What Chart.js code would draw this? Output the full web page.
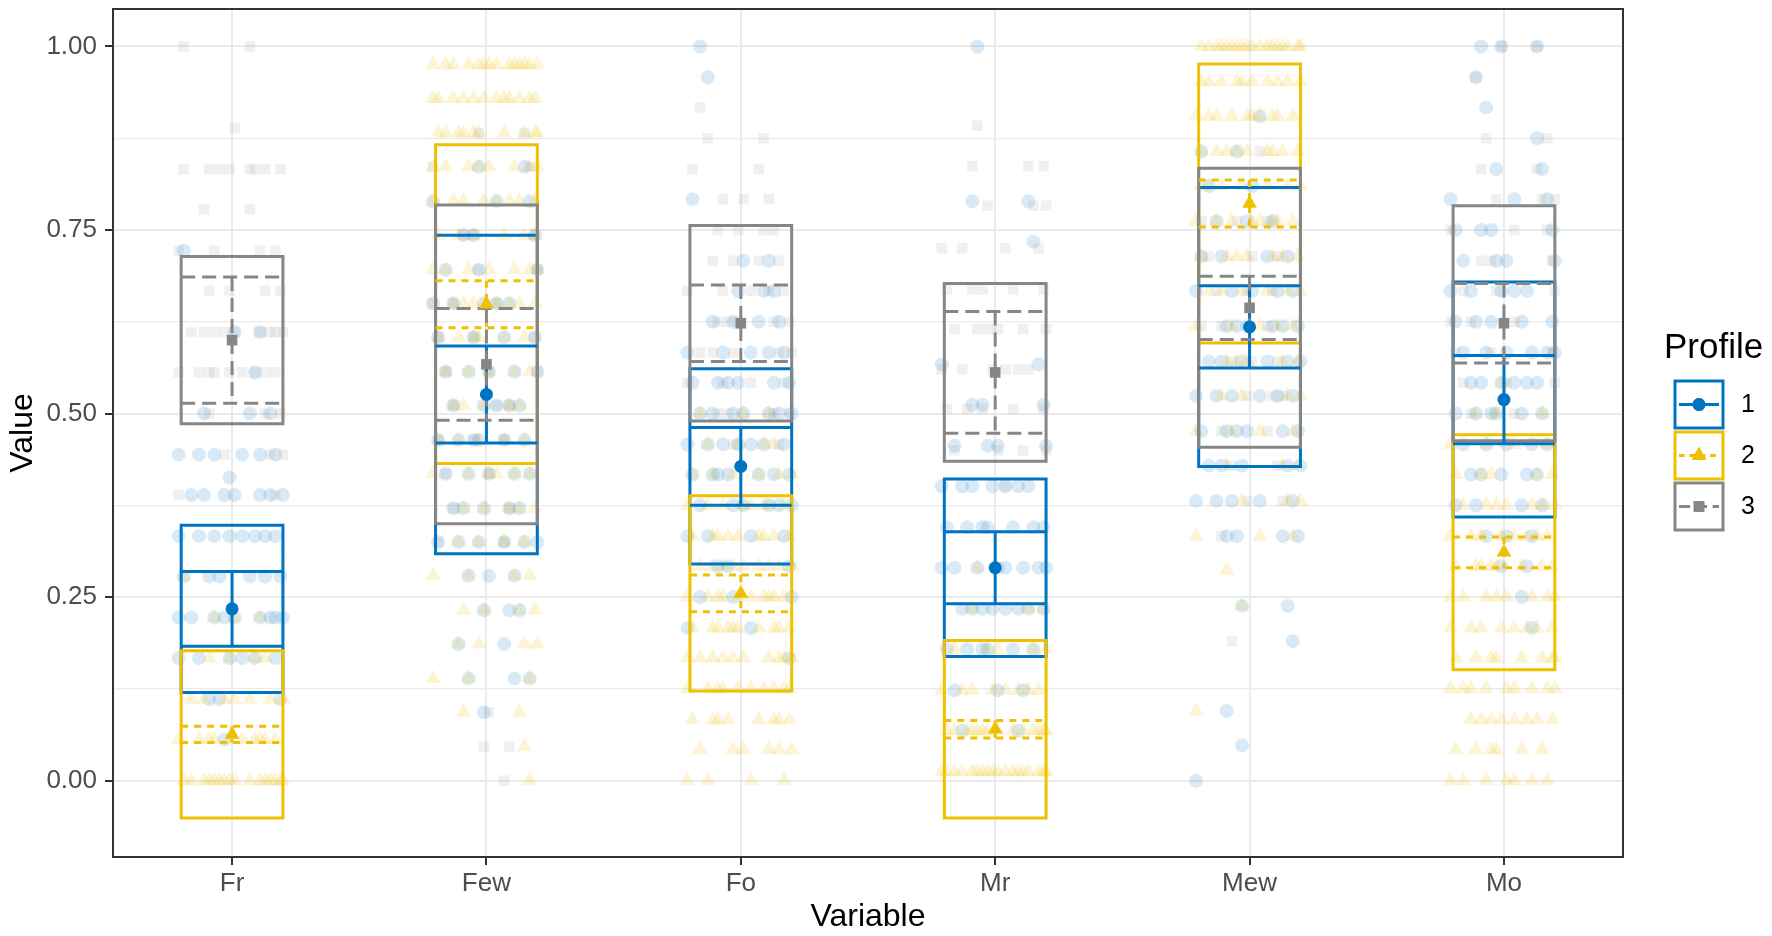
<!DOCTYPE html>
<html>
<head>
<meta charset="utf-8">
<script src="https://cdn.jsdelivr.net/npm/chart.js@4.4.1/dist/chart.umd.min.js"></script>
<style>
  html, body { margin: 0; padding: 0; background: #fff; }
  canvas { display: block; }
</style>
</head>
<body>
<canvas id="chart" width="1772" height="936"></canvas>
<script>
'use strict';

const variables = ['Fr', 'Few', 'Fo', 'Mr', 'Mew', 'Mo'];
const profiles = ['1', '2', '3'];

// means per profile
const mean1 = [0.234, 0.526, 0.428, 0.290, 0.618, 0.519];
const mean2 = [0.063, 0.649, 0.255, 0.070, 0.786, 0.311];
const mean3 = [0.600, 0.567, 0.623, 0.556, 0.644, 0.623];
// half height of the boxes (same for all profiles of a variable)
const boxHalf = [0.114, 0.217, 0.133, 0.121, 0.190, 0.160];
// half height of the error bars
const ci1 = [0.051, 0.066, 0.053, 0.049, 0.056, 0.060];
const ci2 = [0.011, 0.032, 0.025, 0.012, 0.032, 0.021];
const ci3 = [0.086, 0.076, 0.052, 0.083, 0.043, 0.054];

const yTicks = [0, 0.25, 0.5, 0.75, 1];
const yTickLabels = ['0.00', '0.25', '0.50', '0.75', '1.00'];

// raw answers, [value, count] per variable
const obs1 = [
  [[0.722,1],[0.611,2],[0.556,1],[0.5,3],[0.444,6],[0.413,1],[0.389,7],[0.333,8],[0.278,6],[0.222,9],[0.167,6],[0.111,3],[0.056,1]],
  [[0.836,2],[0.789,3],[0.743,3],[0.696,3],[0.65,5],[0.604,4],[0.557,5],[0.511,5],[0.464,6],[0.418,5],[0.371,5],[0.325,6],[0.279,3],[0.232,3],[0.186,2],[0.139,3],[0.093,1]],
  [[1,1],[0.958,1],[0.792,1],[0.708,2],[0.667,3],[0.625,4],[0.583,5],[0.542,6],[0.5,7],[0.458,7],[0.417,7],[0.375,6],[0.333,4],[0.292,3],[0.25,3],[0.208,2],[0.167,1]],
  [[1,1],[0.789,2],[0.734,1],[0.567,2],[0.512,3],[0.456,4],[0.401,7],[0.345,7],[0.29,8],[0.234,8],[0.179,6],[0.123,3],[0.068,2]],
  [[0.905,1],[0.857,2],[0.81,2],[0.762,3],[0.714,4],[0.667,5],[0.619,6],[0.571,6],[0.524,6],[0.476,6],[0.429,5],[0.381,5],[0.333,4],[0.238,2],[0.19,1],[0.095,1],[0.048,1],[0,1]],
  [[1,3],[0.958,1],[0.917,1],[0.875,1],[0.833,2],[0.792,3],[0.75,4],[0.708,4],[0.667,5],[0.625,5],[0.583,6],[0.542,6],[0.5,6],[0.458,5],[0.417,5],[0.375,4],[0.333,3],[0.292,2],[0.25,1],[0.208,1]]
];
const obs2 = [
  [[0.278,1],[0.222,3],[0.167,4],[0.111,7],[0.056,10],[0,16]],
  [[0.975,14],[0.929,12],[0.882,10],[0.836,8],[0.789,8],[0.743,6],[0.696,7],[0.65,8],[0.604,6],[0.557,5],[0.511,5],[0.464,5],[0.418,6],[0.371,5],[0.325,4],[0.279,4],[0.232,4],[0.186,4],[0.139,3],[0.093,2],[0.046,1],[0,1]],
  [[0.5,3],[0.458,4],[0.417,6],[0.375,8],[0.333,9],[0.292,9],[0.25,10],[0.208,10],[0.167,10],[0.125,10],[0.083,8],[0.042,6],[0,4]],
  [[0.29,1],[0.234,3],[0.179,5],[0.123,8],[0.068,14],[0.012,18]],
  [[1,18],[0.952,10],[0.905,10],[0.857,9],[0.81,7],[0.762,8],[0.714,7],[0.667,6],[0.619,5],[0.571,5],[0.524,4],[0.476,4],[0.429,3],[0.381,3],[0.333,3],[0.286,1],[0.238,1],[0.095,1]],
  [[0.542,1],[0.5,3],[0.458,4],[0.417,5],[0.375,7],[0.333,8],[0.292,8],[0.25,8],[0.208,8],[0.167,8],[0.125,9],[0.083,8],[0.042,6],[0,7]]
];
const obs3 = [
  [[1,2],[0.889,1],[0.833,8],[0.778,2],[0.722,4],[0.667,4],[0.611,9],[0.556,9],[0.5,3],[0.444,3],[0.389,2]],
  [[0.882,2],[0.836,2],[0.743,3],[0.696,2],[0.65,3],[0.604,3],[0.557,3],[0.511,3],[0.464,3],[0.418,2],[0.371,2],[0.325,2],[0.093,1],[0.046,2],[0,1]],
  [[0.917,1],[0.875,2],[0.833,2],[0.792,3],[0.75,4],[0.708,4],[0.667,5],[0.625,5],[0.583,5],[0.542,4],[0.5,4],[0.458,2]],
  [[0.892,1],[0.837,3],[0.783,3],[0.725,4],[0.669,5],[0.615,6],[0.56,6],[0.506,5],[0.45,4],[0.401,1]],
  [[0.857,1],[0.762,3],[0.714,3],[0.667,3],[0.619,3],[0.571,3],[0.524,3],[0.476,2],[0.429,2],[0.381,2],[0.333,1],[0.19,1]],
  [[1,2],[0.958,1],[0.875,2],[0.833,2],[0.792,3],[0.75,3],[0.708,3],[0.667,3],[0.625,3],[0.583,3],[0.542,3],[0.5,2]]
];

const colors = ['#0073C2', '#EFC000', '#868686'];
const faded = ['rgba(0,115,194,0.15)', 'rgba(239,192,0,0.17)', 'rgba(134,134,134,0.12)'];
const markers = ['circle', 'triangle', 'rect'];
const markerSize = [6.5, 8.5, 7.5];
const jitterSize = [7, 9, 7.5];
const dashes = [[], [7, 6], [14, 7]];
const halfWidth = 0.2;
const jitterX = [-0.19, 0.07, -0.11, 0.15, -0.03, 0.2, -0.16, 0.01, 0.11, -0.07,
                 0.17, -0.21, 0.04, -0.13, 0.09, -0.01, 0.13, -0.09, 0.19, -0.05];
const font = '"Liberation Sans", Arial, Helvetica, sans-serif';

function boxPath(means) {
  let pts = [];
  means.forEach(function (m, i) {
    let lo = m - boxHalf[i], hi = m + boxHalf[i];
    pts.push({x: i - halfWidth, y: lo}, {x: i + halfWidth, y: lo}, {x: i + halfWidth, y: hi},
             {x: i - halfWidth, y: hi}, {x: i - halfWidth, y: lo}, {x: i, y: null});
  });
  return pts;
}

function errPath(means, ci) {
  let pts = [];
  means.forEach(function (m, i) {
    let lo = m - ci[i], hi = m + ci[i];
    pts.push({x: i - halfWidth, y: hi}, {x: i + halfWidth, y: hi}, {x: i, y: null},
             {x: i, y: hi}, {x: i, y: lo}, {x: i, y: null},
             {x: i - halfWidth, y: lo}, {x: i + halfWidth, y: lo}, {x: i, y: null});
  });
  return pts;
}

function jitterPts(obs) {
  let pts = [];
  obs.forEach(function (list, i) {
    list.forEach(function (row, j) {
      for (let k = 0; k < row[1]; k++) {
        pts.push({x: i + jitterX[(k + j * 7 + i * 3) % jitterX.length], y: row[0]});
      }
    });
  });
  return pts;
}

const means = [mean1, mean2, mean3];
const cis = [ci1, ci2, ci3];
const obs = [obs1, obs2, obs3];
let datasets = [];

profiles.forEach(function (p, k) {
  datasets.push({
    label: 'obs' + p, data: jitterPts(obs[k]), showLine: false,
    pointStyle: markers[k], pointRadius: jitterSize[k], pointBorderWidth: 0,
    pointBackgroundColor: faded[k], order: 40 - k
  });
  datasets.push({
    label: 'box' + p, data: boxPath(means[k]), showLine: true, pointRadius: 0,
    borderColor: colors[k], borderWidth: 3, borderCapStyle: 'square', borderJoinStyle: 'miter',
    spanGaps: false, order: 30 - k
  });
  datasets.push({
    label: 'ci' + p, data: errPath(means[k], cis[k]), showLine: true, pointRadius: 0,
    borderColor: colors[k], borderWidth: 3, borderDash: dashes[k],
    spanGaps: false, order: 20 - k
  });
  datasets.push({
    label: 'mean' + p, data: means[k].map(function (m, i) { return {x: i, y: m}; }),
    showLine: false, pointStyle: markers[k], pointRadius: markerSize[k], pointBorderWidth: 0,
    pointBackgroundColor: colors[k], order: 10 - k
  });
});

function isMajor(v) {
  return yTicks.indexOf(v) >= 0;
}

const panelBorder = {
  id: 'panelBorder',
  afterDatasetsDraw: function (chart) {
    let a = chart.chartArea, ctx = chart.ctx;
    ctx.save();
    ctx.strokeStyle = '#333333';
    ctx.lineWidth = 2;
    ctx.strokeRect(a.left, a.top, a.right - a.left, a.bottom - a.top);
    ctx.restore();
  }
};

// legend drawn by hand: box key with line + marker, like ggplot
const profileLegend = {
  id: 'profileLegend',
  afterDraw: function (chart) {
    let ctx = chart.ctx;
    let x0 = chart.chartArea.right;
    ctx.save();
    ctx.fillStyle = '#000';
    ctx.font = '35px ' + font;
    ctx.textBaseline = 'alphabetic';
    ctx.fillText('Profile', x0 + 41, 358);
    profiles.forEach(function (p, k) {
      let bx = x0 + 52, by = 381 + k * 51, bw = 48, bh = 47;
      ctx.strokeStyle = colors[k];
      ctx.lineWidth = 3;
      ctx.setLineDash([]);
      ctx.strokeRect(bx, by, bw, bh);
      ctx.setLineDash(dashes[k].map(function (d) { return d * 0.8; }));
      ctx.beginPath();
      ctx.moveTo(bx + 4, by + bh / 2);
      ctx.lineTo(bx + bw - 4, by + bh / 2);
      ctx.stroke();
      ctx.setLineDash([]);
      ctx.fillStyle = colors[k];
      Chart.helpers.drawPoint(ctx, {pointStyle: markers[k], radius: markerSize[k], borderWidth: 0},
        bx + bw / 2, by + bh / 2);
      ctx.fill();
      ctx.fillStyle = '#000';
      ctx.font = '25px ' + font;
      ctx.textBaseline = 'middle';
      ctx.fillText(p, bx + bw + 18, by + bh / 2 + 1);
    });
    ctx.restore();
  }
};

new Chart(document.getElementById('chart'), {
  type: 'scatter',
  data: { datasets: datasets },
  plugins: [panelBorder, profileLegend],
  options: {
    responsive: false,
    animation: false,
    devicePixelRatio: 1,
    events: [],
    layout: { padding: { left: 0, right: 149, top: 7, bottom: 0 } },
    plugins: { legend: { display: false }, tooltip: { enabled: false } },
    scales: {
      x: {
        type: 'linear', min: -0.468, max: 5.468,
        afterFit: function (scale) {
          scale.height = 79;
          scale.paddingLeft = 0;
          scale.paddingRight = 0;
        },
        afterBuildTicks: function (scale) {
          scale.ticks = variables.map(function (v, i) { return {value: i}; });
        },
        border: { display: false },
        grid: { color: '#EBEBEB', lineWidth: 2, tickLength: 8, tickColor: '#333333', tickWidth: 2 },
        ticks: {
          autoSkip: false, maxRotation: 0, padding: 3, color: '#4D4D4D',
          font: { family: font, size: 26 },
          callback: function (v) { return variables[v]; }
        },
        title: { display: true, text: 'Variable', color: '#000', font: { family: font, size: 32 }, padding: { top: 0, bottom: 0 } }
      },
      y: {
        min: -0.104, max: 1.051,
        afterFit: function (scale) {
          scale.width = 113;
          scale.paddingTop = 0;
          scale.paddingBottom = 0;
        },
        afterBuildTicks: function (scale) {
          let t = [];
          yTicks.forEach(function (v, i) {
            t.push({value: v});
            if (i < yTicks.length - 1) t.push({value: (v + yTicks[i + 1]) / 2});
          });
          scale.ticks = t;
        },
        border: { display: false },
        grid: {
          color: '#EBEBEB',
          lineWidth: function (c) { return isMajor(c.tick.value) ? 2 : 1.2; },
          tickLength: 8, tickWidth: 2,
          tickColor: function (c) { return isMajor(c.tick.value) ? '#333333' : 'rgba(0,0,0,0)'; }
        },
        ticks: {
          autoSkip: false, padding: 8, color: '#4D4D4D',
          font: { family: font, size: 26 },
          callback: function (v) {
            let k = yTicks.indexOf(v);
            return k >= 0 ? yTickLabels[k] : '';
          }
        },
        title: { display: true, text: 'Value', color: '#000', font: { family: font, size: 32 }, padding: { top: 4, bottom: 0 } }
      }
    }
  }
});
</script>
</body>
</html>
